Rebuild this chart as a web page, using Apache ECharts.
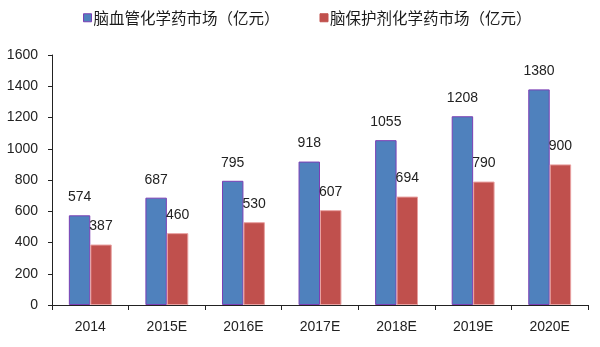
<!DOCTYPE html>
<html><head><meta charset="utf-8">
<script src="https://cdn.jsdelivr.net/npm/echarts@6/dist/echarts.min.js"></script>
<style>html,body{margin:0;padding:0;background:#fff}#c{width:600px;height:347px}</style>
</head><body><div id="c"></div>
<script>
const categories = ['2014','2015E','2016E','2017E','2018E','2019E','2020E'];
const seriesNames = ['脑血管化学药市场（亿元）','脑保护剂化学药市场（亿元）'];
const cerebrovascular = [574,687,795,918,1055,1208,1380];
const protective = [387,460,530,607,694,790,900];
const yTicks = {min:0,max:1600,interval:200};

const chart = echarts.init(document.getElementById('c'), null, {renderer:'canvas'});
const font = 'Arial, "Liberation Sans", "Noto Sans CJK SC", sans-serif';
chart.setOption({
  animation:false,
  textStyle:{fontFamily:font},
  legend:{
    top:5, left:78, itemWidth:8, itemHeight:8, itemGap:40, icon:'rect',
    textStyle:{fontSize:15.5,color:'#1a1a1a',fontFamily:'"Noto Sans CJK SC", sans-serif',padding:[0,0,0,-3]},
    data:[
      {name:seriesNames[0],itemStyle:{color:'#4F81BD',borderColor:'#7B3FB5',borderWidth:1}},
      {name:seriesNames[1],itemStyle:{color:'#C0504D',borderColor:'#C0504D',borderWidth:1}}
    ]
  },
  grid:{left:52,right:12,top:55,bottom:42},
  xAxis:{
    type:'category', data:categories,
    axisLine:{lineStyle:{color:'#222',width:1}},
    axisTick:{show:true,length:5,lineStyle:{color:'#222'}},
    axisLabel:{fontSize:14,color:'#222',margin:15}
  },
  yAxis:{
    type:'value', min:yTicks.min, max:yTicks.max, interval:yTicks.interval,
    axisLine:{show:true,lineStyle:{color:'#222'}},
    axisTick:{show:true,length:4,lineStyle:{color:'#222'}},
    splitLine:{show:false},
    axisLabel:{fontSize:14,color:'#222',margin:14,formatter:v=>String(v)}
  },
  series:[
    {name:seriesNames[0],type:'bar',data:cerebrovascular,barGap:'0%',barCategoryGap:'44%',
     itemStyle:{color:'#4F81BD',borderColor:'#7B3FB5',borderWidth:1},
     label:{show:true,position:'top',distance:11,fontSize:14,color:'#222'}},
    {name:seriesNames[1],type:'bar',data:protective,
     itemStyle:{color:'#C0504D',borderColor:'#E8A0A0',borderWidth:1},
     label:{show:true,position:'top',distance:11,fontSize:14,color:'#222'}}
  ]
});
</script></body></html>
